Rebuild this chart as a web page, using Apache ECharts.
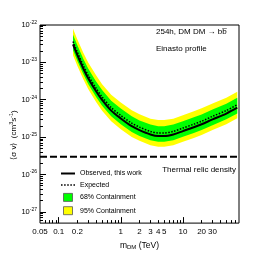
<!DOCTYPE html>
<html><head><meta charset="utf-8">
<script src="https://cdn.jsdelivr.net/npm/echarts@6/dist/echarts.min.js"></script>
<style>html,body{margin:0;padding:0;background:#fff}#c{width:266px;height:255px}</style>
</head><body><div id="c"></div>
<script>
// ---- data ----
const mass       = [0.17, 0.2, 0.25, 0.3, 0.4, 0.5, 0.7, 1, 1.5, 2, 3, 4, 5, 7, 10, 15, 20, 30, 50, 75];
const observed   = [3.01e-23, 1.56e-23, 6.73e-24, 3.70e-24, 1.69e-24, 9.88e-25, 5.11e-25, 3.16e-25, 1.96e-25, 1.54e-25, 1.18e-25, 1.07e-25, 1.07e-25, 1.18e-25, 1.45e-25, 1.84e-25, 2.21e-25, 2.98e-25, 4.27e-25, 6.11e-25];
const expected   = [3.6e-23, 1.87e-23, 8.1e-24, 4.45e-24, 2.03e-24, 1.19e-24, 6.2e-25, 3.8e-25, 2.36e-25, 1.85e-25, 1.42e-25, 1.29e-25, 1.29e-25, 1.42e-25, 1.75e-25, 2.22e-25, 2.66e-25, 3.6e-25, 5.15e-25, 7.4e-25];
const green68Hi  = [5.5e-23, 2.85e-23, 1.23e-23, 6.8e-24, 3.1e-24, 1.81e-24, 9.4e-25, 5.8e-25, 3.6e-25, 2.8e-25, 2.16e-25, 1.96e-25, 1.96e-25, 2.16e-25, 2.66e-25, 3.4e-25, 4.05e-25, 5.5e-25, 7.8e-25, 1.13e-24];
const green68Lo  = [2.1e-23, 1.08e-23, 4.7e-24, 2.58e-24, 1.18e-24, 6.9e-25, 3.6e-25, 2.2e-25, 1.37e-25, 1.07e-25, 8.2e-26, 7.5e-26, 7.5e-26, 8.2e-26, 1.02e-25, 1.29e-25, 1.54e-25, 2.09e-25, 3.0e-25, 4.3e-25];
const yellow95Hi = [7.9e-23, 4.1e-23, 1.78e-23, 9.8e-24, 4.5e-24, 2.6e-24, 1.36e-24, 8.4e-25, 5.2e-25, 4.1e-25, 3.1e-25, 2.85e-25, 2.85e-25, 3.1e-25, 3.85e-25, 4.9e-25, 5.9e-25, 7.9e-25, 1.13e-24, 1.63e-24];
const yellow95Lo = [1.55e-23, 8.0e-24, 3.5e-24, 1.91e-24, 8.7e-25, 5.1e-25, 2.67e-25, 1.63e-25, 1.01e-25, 8.0e-26, 6.1e-26, 5.5e-26, 5.5e-26, 6.1e-26, 7.5e-26, 9.5e-26, 1.14e-25, 1.55e-25, 2.21e-25, 3.2e-25];
const thermalRelic = 3e-26;
const xTickLabels = [0.05, 0.1, 0.2, 1, 2, 3, 4, 5, 10, 20, 30];
const xMajorTicks = [0.1, 1, 10];
const yTickLabels = [1e-27, 1e-26, 1e-25, 1e-24, 1e-23, 1e-22];
const X_MIN = 0.05, X_MAX = 80, Y_MIN = 5e-28, Y_MAX = 1e-22;

// y axis is drawn in log10 units (value axis) because tiny values lose precision in the log-axis tick code
const L = v => Math.log10(v);

// minor ticks (decorations)
const xMinorTicks = [];
for (let d = -2; d <= 1; d++) for (let k = 2; k <= 9; k++) { const v = +(k * Math.pow(10, d)).toPrecision(3); if (v > X_MIN && v < X_MAX) xMinorTicks.push(v); }
const yMinorTicks = [];
for (let d = -28; d <= -23; d++) for (let k = 2; k <= 9; k++) { const v = L(k) + d; if (v > L(Y_MIN) && v < L(Y_MAX)) yMinorTicks.push(v); }

const FONT = '"Liberation Sans", Arial, sans-serif';
const chart = echarts.init(document.getElementById('c'), null, {renderer: 'canvas'});

function band(name, lo, hi, color) {
  return {
    type: 'custom', name, xAxisIndex: 0, yAxisIndex: 0, silent: true, clip: true,
    itemStyle: {color},
    data: mass.map((m, i) => [m, L(lo[i]), L(hi[i])]),
    encode: {x: 0, y: [1, 2]},
    renderItem: (params, api) => {
      if (params.dataIndex !== 0) return null;
      const pts = [];
      for (let i = 0; i < mass.length; i++) pts.push(api.coord([mass[i], L(hi[i])]));
      for (let i = mass.length - 1; i >= 0; i--) pts.push(api.coord([mass[i], L(lo[i])]));
      return {type: 'polygon', shape: {points: pts}, style: {fill: color}};
    }
  };
}

const baseX = {type: 'log', logBase: 10, min: X_MIN, max: X_MAX, gridIndex: 0, position: 'bottom',
  axisLine: {show: false}, splitLine: {show: false}, minorTick: {show: false}};
const baseY = {type: 'value', min: L(Y_MIN), max: L(Y_MAX), gridIndex: 0, position: 'left',
  axisLine: {show: false}, splitLine: {show: false}, minorTick: {show: false}};

const dotIcon = 'path://M0,0h1.5v1.5h-1.5z M3,0h1.5v1.5h-1.5z M6,0h1.5v1.5h-1.5z M9,0h1.5v1.5h-1.5z M12,0h1.5v1.5h-1.5z';
const solidIcon = 'path://M0,0h14v2h-14z';
const boxIcon = 'path://M0,0h9v8h-9z';

chart.setOption({
  animation: false,
  backgroundColor: '#fff',
  textStyle: {fontFamily: FONT},
  grid: {left: 40, top: 25, right: 27, bottom: 27, show: true, borderColor: '#000', borderWidth: 1, backgroundColor: 'transparent'},
  xAxis: [
    Object.assign({}, baseX, {
      axisTick: {show: true, inside: true, length: 6, lineStyle: {color: '#000', width: 1}, customValues: xMajorTicks},
      axisLabel: {show: true, customValues: xTickLabels, fontSize: 8, color: '#000', margin: 5, fontFamily: FONT,
        formatter: v => String(+(+v).toPrecision(3))},
      name: '{n|m}{sub|DM}{n| (TeV)}', nameLocation: 'middle', nameGap: 15,
      nameTextStyle: {rich: {n: {fontSize: 8.5, color: '#000', fontFamily: FONT}, sub: {fontSize: 6, color: '#000', fontFamily: FONT, verticalAlign: 'bottom', padding: [3, 0, 0, 0]}}}
    }),
    Object.assign({}, baseX, {
      axisTick: {show: true, inside: true, length: 3, lineStyle: {color: '#000', width: 1}, customValues: xMinorTicks},
      axisLabel: {show: false}
    })
  ],
  yAxis: [
    Object.assign({}, baseY, {
      axisTick: {show: true, inside: true, length: 6, lineStyle: {color: '#000', width: 1}, customValues: yTickLabels.map(L)},
      axisLabel: {show: true, customValues: yTickLabels.map(L), margin: 3, color: '#000',
        formatter: v => '{b|10}{s|' + Math.round(v) + '}',
        rich: {b: {fontSize: 7.5, color: '#000', fontFamily: FONT}, s: {fontSize: 5, color: '#000', fontFamily: FONT, padding: [0, 0, 5, 0]}}}
    }),
    Object.assign({}, baseY, {
      axisTick: {show: true, inside: true, length: 3, lineStyle: {color: '#000', width: 1}, customValues: yMinorTicks},
      axisLabel: {show: false}
    })
  ],
  legend: {
    orient: 'vertical', left: 61, top: 170, padding: 0, itemWidth: 14, itemHeight: 8, itemGap: 4.5,
    textStyle: {fontSize: 7, color: '#000', fontFamily: FONT}, selectedMode: false,
    data: [
      {name: 'Observed, this work', icon: solidIcon, itemStyle: {color: '#000', borderWidth: 0}},
      {name: 'Expected', icon: dotIcon, itemStyle: {color: '#000', borderWidth: 0}},
      {name: '68% Containment', icon: boxIcon, itemStyle: {color: '#00ff00', borderColor: '#555', borderWidth: 0.8}},
      {name: '95% Containment', icon: boxIcon, itemStyle: {color: '#ffff00', borderColor: '#555', borderWidth: 0.8}}
    ]
  },
  series: [
    band('95% Containment', yellow95Lo, yellow95Hi, '#ffff00'),
    band('68% Containment', green68Lo, green68Hi, '#00ff00'),
    {type: 'line', name: 'Expected', xAxisIndex: 0, yAxisIndex: 0, showSymbol: false, symbol: 'none', smooth: 0.3,
      data: mass.map((m, i) => [m, L(expected[i])]), lineStyle: {color: '#000', width: 1.5, type: [1.5, 1.5]}, itemStyle: {color: '#000'}, z: 4},
    {type: 'line', name: 'Observed, this work', xAxisIndex: 0, yAxisIndex: 0, showSymbol: false, symbol: 'none', smooth: 0.3,
      data: mass.map((m, i) => [m, L(observed[i])]), lineStyle: {color: '#000', width: 2}, itemStyle: {color: '#000'}, z: 5},
    {type: 'line', name: 'Thermal relic', xAxisIndex: 0, yAxisIndex: 0, showSymbol: false, symbol: 'none',
      data: [[X_MIN, L(thermalRelic)], [X_MAX, L(thermalRelic)]], lineStyle: {color: '#000', width: 2, type: [7, 3]}, z: 5}
  ],
  graphic: [
    {type: 'text', left: 156, top: 28, style: {text: '254h, DM DM \u2192 bb\u0305', fontSize: 8, fill: '#000', fontFamily: FONT}},
    {type: 'text', left: 156, top: 45, style: {text: 'Einasto profile', fontSize: 8, fill: '#000', fontFamily: FONT}},
    {type: 'text', right: 30, top: 166, style: {text: 'Thermal relic density', fontSize: 8, fill: '#000', fontFamily: FONT}},
    {type: 'text', x: 14, y: 135, rotation: Math.PI / 2,
      style: {text: '{n|\u27E8\u03C3 v\u27E9  (cm}{s|3}{n|s}{s|-1}{n|)}', align: 'center', verticalAlign: 'middle',
        rich: {n: {fontSize: 8, fill: '#000', fontFamily: FONT}, s: {fontSize: 5.5, fill: '#000', fontFamily: FONT, padding: [0, 0, 5, 0]}}}}
  ]
});
</script></body></html>
